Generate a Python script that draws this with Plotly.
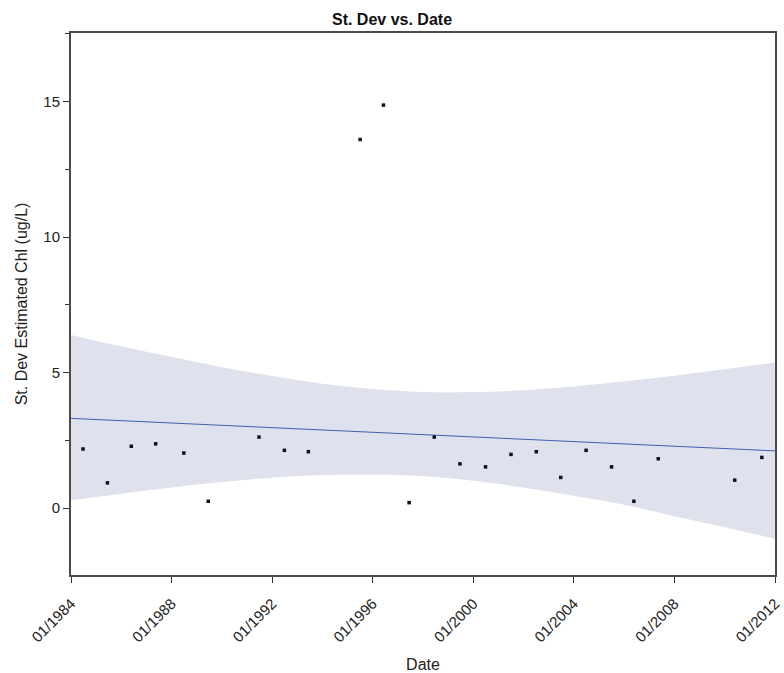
import plotly.graph_objects as go

# Annual standard deviation of estimated chlorophyll
obs_dates = [
    "1984-06-24", "1985-06-13", "1986-05-26", "1987-05-15", "1988-06-27",
    "1989-06-17", "1991-06-24", "1992-06-27", "1993-06-10", "1995-07-02",
    "1996-06-05", "1997-06-13", "1998-06-13", "1999-06-21", "2000-06-27",
    "2001-07-02", "2002-07-05", "2003-06-24", "2004-06-27", "2005-07-02",
    "2006-05-22", "2007-05-11", "2010-05-26", "2011-06-24",
]
obs_sd = [
    2.18, 0.93, 2.28, 2.37, 2.03,
    0.25, 2.62, 2.13, 2.08, 13.60,
    14.87, 0.20, 2.62, 1.63, 1.52,
    1.98, 2.08, 1.13, 2.13, 1.52,
    0.25, 1.82, 1.03, 1.87,
]

# Linear trend and its confidence band
fit_dates = ["1984-01-01", "2012-01-01"]
fit_sd = [3.31, 2.11]

band_dates = [
    "1984-01-01", "1986-01-01", "1988-01-01", "1990-01-01", "1992-01-01",
    "1994-01-01", "1996-01-01", "1998-01-01", "2000-01-01", "2002-01-01",
    "2004-01-01", "2006-01-01", "2008-01-01", "2010-01-01", "2012-01-01",
]
band_upper = [6.39, 5.97, 5.57, 5.20, 4.87, 4.59, 4.39, 4.28, 4.28, 4.35,
              4.49, 4.67, 4.88, 5.12, 5.37]
band_lower = [0.29, 0.53, 0.76, 0.96, 1.12, 1.22, 1.24, 1.18, 1.01, 0.76,
              0.45, 0.12, -0.30, -0.71, -1.13]

tick_dates = ["1984-01-01", "1988-01-01", "1992-01-01", "1996-01-01",
              "2000-01-01", "2004-01-01", "2008-01-01", "2012-01-01"]
tick_labels = ["01/1984", "01/1988", "01/1992", "01/1996",
               "01/2000", "01/2004", "01/2008", "01/2012"]

FONT = "Liberation Sans, Arial, sans-serif"
BAND = "#dfe2ec"

fig = go.Figure()

fig.add_trace(go.Scatter(
    x=band_dates, y=band_lower, mode="lines",
    line=dict(width=0, shape="spline"), hoverinfo="skip", showlegend=False,
))
fig.add_trace(go.Scatter(
    x=band_dates, y=band_upper, mode="lines", fill="tonexty", fillcolor=BAND,
    line=dict(width=0, shape="spline"), hoverinfo="skip", showlegend=False,
))
fig.add_trace(go.Scatter(
    x=fit_dates, y=fit_sd, mode="lines",
    line=dict(color="#4060b0", width=1), showlegend=False,
))
fig.add_trace(go.Scatter(
    x=obs_dates, y=obs_sd, mode="markers",
    marker=dict(symbol="square", size=3.5, color="#0e0e24"), showlegend=False,
))

axis_common = dict(
    showgrid=False, zeroline=False, showline=True, linecolor="#4a4a4a",
    linewidth=2, mirror=True, ticks="outside", ticklen=6, tickwidth=1,
    tickcolor="#333333", tickfont=dict(family=FONT, size=15, color="#222222"),
    automargin=False,
)

fig.update_layout(
    width=784, height=673,
    margin=dict(l=71, r=9, t=33, b=98),
    paper_bgcolor="white", plot_bgcolor="white",
    font=dict(family=FONT, color="#222222"),
    title=dict(text="<b>St. Dev vs. Date</b>", x=0.5, xanchor="center",
               y=1 - 19 / 673, yanchor="middle",
               font=dict(family=FONT, size=16, color="#111111")),
    xaxis=dict(
        **axis_common,
        type="date", range=["1984-01-01", "2012-01-01"],
        tickmode="array", tickvals=tick_dates, ticktext=tick_labels,
        tickangle=-45, ticklabelstandoff=6,
        title=dict(text="Date", font=dict(family=FONT, size=16), standoff=16),
    ),
    yaxis=dict(
        **axis_common,
        range=[-2.47, 17.53], tickvals=[0, 5, 10, 15],
        minor=dict(dtick=2.5, tick0=0, ticks="outside", ticklen=4,
                   tickcolor="#333333"),
        title=dict(text="St. Dev Estimated Chl (ug/L)",
                   font=dict(family=FONT, size=16), standoff=12),
    ),
)

fig.write_html("out.html")
